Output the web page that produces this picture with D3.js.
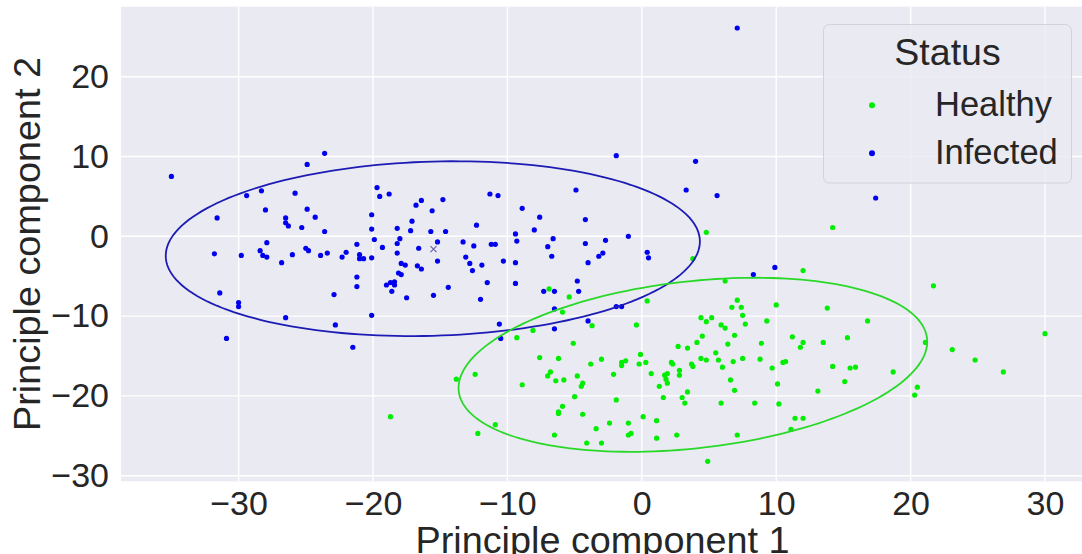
<!DOCTYPE html>
<html>
<head>
<meta charset="utf-8">
<script src="https://cdn.jsdelivr.net/npm/d3@7"></script>
<style>
  body { margin: 0; background: #fff; }
  svg text { font-family: "Liberation Sans", Arial, sans-serif; fill: #262626; }
</style>
</head>
<body>
<div id="chart"></div>
<script>
// PCA scores: [PC1, PC2]
const infected = [
  [-35.0,7.5],[-24.9,9.0],[-23.6,10.4],[-29.4,5.1],[-28.3,5.7],[-25.8,5.4],[-19.7,6.1],[-19.5,5.0],
  [-18.8,5.3],[-16.4,4.5],[-16.8,3.9],[-31.6,2.3],[-28.0,3.3],[-24.9,3.4],[-24.3,2.4],[-26.5,2.3],
  [-26.5,1.7],[-26.3,1.3],[-25.3,1.1],[-23.6,0.6],[-20.1,2.7],[-20.1,0.9],[-17.1,1.9],[-17.2,0.7],
  [-18.2,1.0],[-18.0,-0.3],[-18.2,-0.9],[-19.9,-0.4],[-19.3,-1.4],[-16.6,-1.5],[-27.9,-0.8],[-28.4,-1.8],
  [-28.2,-2.4],[-27.9,-2.6],[-31.8,-2.2],[-29.8,-2.4],[-26.8,-3.3],[-26.0,-2.3],[-25.0,-1.5],[-24.8,-1.8],
  [-23.9,-2.4],[-23.4,-2.1],[-22.3,-2.6],[-22.0,-2.0],[-21.2,-1.0],[-21.0,-2.3],[-21.0,-2.8],[-20.7,-2.8],
  [-20.1,-2.7],[-18.2,-2.1],[-17.9,-3.4],[-17.6,-3.6],[-18.1,-4.6],[-17.9,-4.8],[-16.7,-3.7],[-16.4,-4.1],
  [-21.2,-5.1],[-21.2,-6.3],[-19.0,-6.1],[-18.7,-5.8],[-18.4,-5.7],[-18.4,-6.1],[-18.6,-6.9],[-17.5,-7.7],
  [-22.9,-7.3],[-31.4,-7.1],[-30.0,-8.3],[-30.0,-8.8],[-26.5,-10.2],[-20.1,-9.9],[-22.8,-11.1],[-30.9,-12.8],
  [-21.5,-13.9],
  [-1.9,10.1],[4.0,9.4],[3.3,5.8],[-4.9,5.8],[-14.8,4.6],[-15.6,3.2],[-11.3,5.3],[-10.7,5.1],
  [-8.9,3.5],[-7.6,2.4],[-4.2,2.1],[-12.3,1.4],[-15.7,0.6],[-14.6,0.6],[-9.4,0.3],[-8.0,0.8],
  [-6.6,-0.3],[-2.7,-0.5],[-1.0,0.0],[-15.2,-0.7],[-13.3,-0.7],[-12.5,-1.2],[-11.2,-1.0],[-10.9,-1.0],
  [-9.3,-0.6],[-7.0,-1.3],[-4.2,-0.9],[-13.1,-2.6],[-15.2,-3.1],[-12.8,-3.4],[-11.9,-3.6],[-12.6,-4.3],
  [-10.3,-3.1],[-9.4,-3.3],[-6.7,-2.5],[-3.2,-2.5],[-2.9,-2.1],[-4.0,-3.3],[0.4,-2.0],[0.5,-2.7],
  [-14.4,-6.4],[-15.5,-7.4],[-11.5,-5.8],[-12.0,-7.9],[-9.4,-5.9],[-4.8,-5.6],[-7.3,-6.9],[-6.5,-6.9],
  [-4.7,-6.9],[-6.5,-9.1],[-1.9,-8.8],[-1.5,-8.8],[-10.6,-11.0],[-10.5,-12.8],[-4.0,-10.6],[-6.5,-11.6],
  [5.6,5.1],[7.1,26.1],[17.4,4.8],[9.9,-3.9],[8.3,-4.8]
];

const healthy = [
  [-6.9,-6.6],[-5.4,-7.6],[-5.9,-9.5],[0.4,-8.1],[-0.4,-11.1],[-3.7,-11.2],[-8.1,-11.8],[-9.3,-12.7],
  [-5.1,-13.4],[2.7,-13.8],[3.4,-14.0],[-7.6,-15.2],[-6.2,-15.3],[-3.0,-15.4],[-3.8,-16.0],[-1.5,-15.8],
  [-1.2,-15.6],[-1.5,-16.2],[-0.1,-14.8],[-0.2,-16.0],[0.3,-15.8],[2.2,-15.8],[2.3,-16.0],[2.8,-16.8],
  [0.7,-17.2],[1.7,-17.4],[1.9,-17.2],[1.8,-17.9],[1.9,-18.4],[2.8,-17.4],[1.3,-18.8],[-13.8,-17.9],
  [-12.4,-17.3],[-8.9,-18.6],[-6.8,-17.0],[-7.0,-17.5],[-6.4,-18.1],[-5.8,-18.0],[-4.8,-17.5],[-4.4,-18.4],
  [-4.5,-18.8],[-2.1,-17.3],[-5.0,-20.1],[-1.9,-20.5],[1.6,-20.2],[3.4,-19.5],[3.0,-20.2],[3.2,-20.9],
  [-5.9,-21.3],[-6.2,-22.0],[-6.2,-22.2],[-4.4,-22.3],[0.1,-22.6],[1.1,-23.1],[-2.4,-23.4],[-1.0,-23.4],
  [-3.4,-24.1],[-1.0,-24.9],[-0.8,-24.7],[-6.5,-24.9],[-4.1,-25.9],[-3.0,-25.9],[1.1,-25.3],[2.6,-24.9],
  [-10.9,-23.6],[-12.2,-24.7],[-18.7,-22.6],[3.8,-2.8],[4.8,0.5],[14.2,1.1],
  [6.2,-5.6],[12.0,-4.3],[21.7,-6.2],[7.1,-8.0],[6.7,-8.9],[7.4,-8.9],[10.0,-8.6],[13.8,-9.0],
  [7.5,-9.9],[7.7,-11.0],[4.4,-10.2],[4.8,-10.7],[5.2,-10.2],[5.9,-11.1],[6.2,-11.5],[9.3,-10.6],
  [16.8,-10.6],[4.5,-12.5],[6.9,-12.4],[4.1,-13.3],[6.4,-13.5],[8.9,-13.4],[11.2,-12.6],[12.0,-13.3],
  [11.8,-13.9],[13.5,-13.3],[15.3,-12.7],[21.1,-13.3],[5.5,-14.6],[5.7,-15.5],[4.4,-15.3],[4.8,-15.5],
  [3.7,-16.0],[3.8,-16.3],[6.0,-16.4],[6.8,-15.7],[7.5,-15.3],[8.8,-15.4],[9.7,-16.5],[10.5,-15.8],
  [10.7,-15.7],[14.2,-16.3],[15.5,-16.5],[15.9,-16.4],[18.7,-17.0],[6.6,-18.0],[10.1,-18.5],[15.1,-18.2],
  [6.9,-19.3],[13.1,-19.4],[20.5,-18.9],[20.3,-19.9],[5.9,-20.9],[8.4,-20.9],[10.2,-21.0],[11.4,-22.8],
  [12.0,-22.8],[11.1,-24.2],[7.1,-24.9],[4.9,-28.2],[30.0,-12.2],[23.1,-14.2],[24.8,-15.5],[26.9,-17.0]
];

// confidence ellipses: centre, semi-axes, rotation (degrees, data units)
const ellipses = [
  { status: "Infected", cx: -15.55, cy: -1.55, a: 19.9, b: 10.9, angle: 3.7 },
  { status: "Healthy", cx: 3.8, cy: -16.1, a: 17.8, b: 10.3, angle: 14.3 }
];
const infectedCentroid = [-15.5, -1.6];

const statusLabels = ["Healthy", "Infected"];
const pointColor = { Healthy: "#00ee00", Infected: "#0000ee" };
const lineColor = { Healthy: "#2ad82a", Infected: "#1c1cb4" };
const xTicks = [-30, -20, -10, 0, 10, 20, 30];
const yTicks = [-30, -20, -10, 0, 10, 20];

const width = 1082, height = 554;
const plot = { left: 121, right: 1084, top: 6.7, bottom: 481.3 };

const svg = d3.select("#chart").append("svg")
  .attr("width", width)
  .attr("height", height);

const x = d3.scaleLinear().domain([-38.75, 32.9]).range([plot.left, plot.right]);
const y = d3.scaleLinear().domain([-30.7, 28.77]).range([plot.bottom, plot.top]);

// background
svg.append("rect")
  .attr("x", plot.left).attr("y", plot.top)
  .attr("width", plot.right - plot.left).attr("height", plot.bottom - plot.top)
  .attr("fill", "#eaeaf2");

// grid
svg.append("g").selectAll("line").data(xTicks).enter().append("line")
  .attr("x1", d => x(d)).attr("x2", d => x(d))
  .attr("y1", plot.top).attr("y2", plot.bottom)
  .attr("stroke", "#fff").attr("stroke-width", 1.4);
svg.append("g").selectAll("line").data(yTicks).enter().append("line")
  .attr("y1", d => y(d)).attr("y2", d => y(d))
  .attr("x1", plot.left).attr("x2", plot.right)
  .attr("stroke", "#fff").attr("stroke-width", 1.4);

// axes (no spines, no tick marks)
const xAxis = svg.append("g")
  .attr("transform", `translate(0,${plot.bottom})`)
  .call(d3.axisBottom(x).tickValues(xTicks).tickSize(0).tickPadding(10));
const yAxis = svg.append("g")
  .attr("transform", `translate(${plot.left},0)`)
  .call(d3.axisLeft(y).tickValues(yTicks).tickSize(0).tickPadding(12));
[xAxis, yAxis].forEach(g => {
  g.select(".domain").remove();
  g.selectAll("text")
    .style("font-size", "34px")
    .style("font-family", "'Liberation Sans', Arial, sans-serif")
    .attr("fill", "#262626");
});

// axis labels
svg.append("text")
  .attr("x", (plot.left + plot.right) / 2)
  .attr("y", 553)
  .attr("text-anchor", "middle")
  .style("font-size", "37.8px")
  .text("Principle component 1");
svg.append("text")
  .attr("transform", `translate(40,${(plot.top + plot.bottom) / 2}) rotate(-90)`)
  .attr("text-anchor", "middle")
  .style("font-size", "37.8px")
  .text("Principle component 2");

// points
const dots = svg.append("g");
dots.selectAll("circle.h").data(healthy).enter().append("circle")
  .attr("class", "h")
  .attr("cx", d => x(d[0])).attr("cy", d => y(d[1]))
  .attr("r", 2.6).attr("fill", pointColor.Healthy);
dots.selectAll("circle.i").data(infected).enter().append("circle")
  .attr("class", "i")
  .attr("cx", d => x(d[0])).attr("cy", d => y(d[1]))
  .attr("r", 2.6).attr("fill", pointColor.Infected);

// centroid marker
const cxm = x(infectedCentroid[0]), cym = y(infectedCentroid[1]);
svg.append("path")
  .attr("d", `M${cxm - 3},${cym - 3}L${cxm + 3},${cym + 3}M${cxm - 3},${cym + 3}L${cxm + 3},${cym - 3}`)
  .attr("stroke", "#6666aa").attr("stroke-width", 1.2);

// ellipses
const steps = d3.range(0, 361, 2).map(t => t * Math.PI / 180);
const line = d3.line().x(d => x(d[0])).y(d => y(d[1]));
svg.append("g").selectAll("path").data(ellipses).enter().append("path")
  .attr("d", e => {
    const r = e.angle * Math.PI / 180;
    return line(steps.map(t => [
      e.cx + e.a * Math.cos(t) * Math.cos(r) - e.b * Math.sin(t) * Math.sin(r),
      e.cy + e.a * Math.cos(t) * Math.sin(r) + e.b * Math.sin(t) * Math.cos(r)
    ]));
  })
  .attr("fill", "none")
  .attr("stroke", e => lineColor[e.status])
  .attr("stroke-width", 1.8);

// legend
const legend = svg.append("g");
legend.append("rect")
  .attr("x", 823.5).attr("y", 24.5).attr("width", 248).attr("height", 158.5)
  .attr("rx", 6).attr("ry", 6)
  .attr("fill", "#eaeaf2").attr("fill-opacity", 0.8)
  .attr("stroke", "#d2d2d8").attr("stroke-width", 1);
legend.append("text")
  .attr("x", 947.5).attr("y", 64.5)
  .attr("text-anchor", "middle")
  .style("font-size", "37.5px")
  .text("Status");
const items = legend.selectAll("g.item").data(statusLabels).enter().append("g")
  .attr("class", "item")
  .attr("transform", (d, i) => `translate(0,${i * 48})`);
items.append("circle")
  .attr("cx", 872).attr("cy", 105.3).attr("r", 3)
  .attr("fill", d => pointColor[d]);
items.append("text")
  .attr("x", 935).attr("y", 115.5)
  .style("font-size", "34.5px")
  .text(d => d);
</script>
</body>
</html>
